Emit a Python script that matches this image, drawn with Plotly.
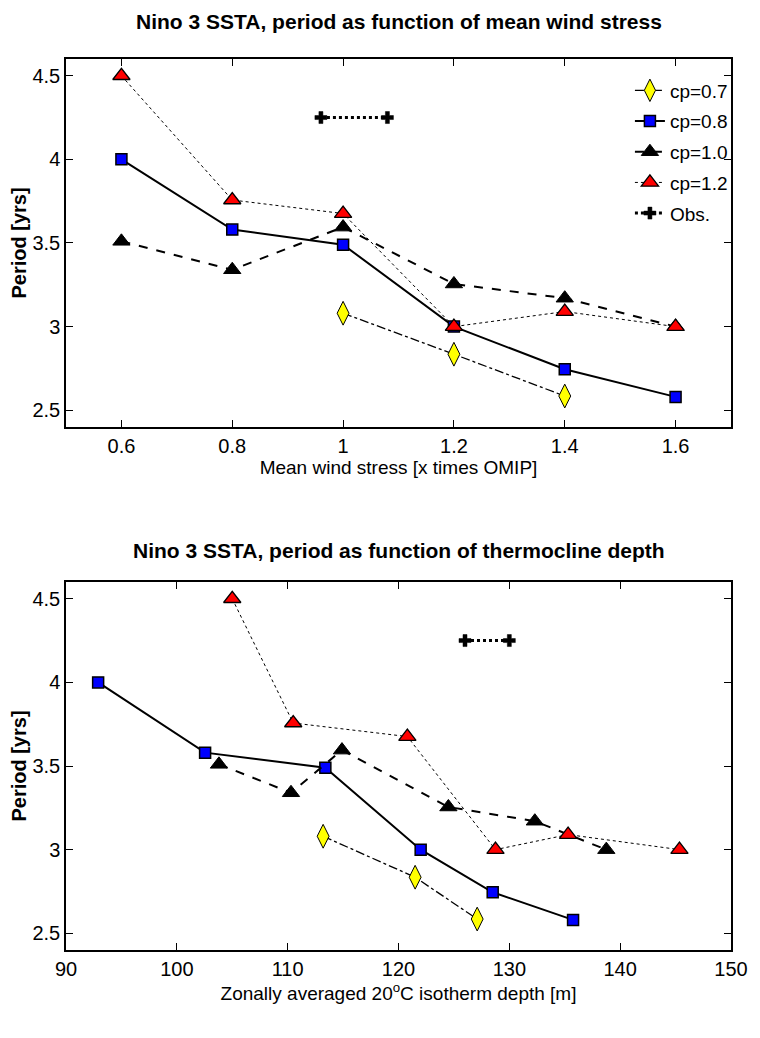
import plotly.graph_objects as go

# ---------------- data ----------------
wind_x = [0.6, 0.8, 1.0, 1.2, 1.4, 1.6]
wind_x07 = [1.0, 1.2, 1.4]
obs_wind_x = [0.96, 1.08]

p07 = [3.08, 2.835, 2.585]
p08 = [4.0, 3.58, 3.49, 3.0, 2.745, 2.58]
p10 = [3.51, 3.34, 3.595, 3.255, 3.17, 3.0]
p12 = [4.5, 3.757, 3.676, 3.0, 3.09, 3.0]
obs_p = [4.25, 4.25]

depth07 = [113.2, 121.5, 127.1]
depth08 = [92.9, 102.55, 113.4, 122.0, 128.5, 135.75]
depth10 = [103.8, 110.3, 114.9, 124.5, 132.3, 138.75]
depth12 = [105.0, 110.5, 120.8, 128.75, 135.3, 145.35]
obs_depth = [126.0, 130.0]

wind_ticks = [0.6, 0.8, 1.0, 1.2, 1.4, 1.6]
wind_ticktext = ["0.6", "0.8", "1", "1.2", "1.4", "1.6"]
depth_ticks = [90, 100, 110, 120, 130, 140, 150]
period_ticks = [2.5, 3.0, 3.5, 4.0, 4.5]
period_ticktext = ["2.5", "3", "3.5", "4", "4.5"]

FONT = "Arial"

styles = {
    "cp=0.7": dict(line=dict(color="black", width=1.3, dash="dashdot"),
                   marker=dict(symbol="diamond-tall", size=17, color="#ffff00",
                               line=dict(color="black", width=1))),
    "cp=0.8": dict(line=dict(color="black", width=2),
                   marker=dict(symbol="square", size=11, color="#0000ff",
                               line=dict(color="black", width=1.5))),
    "cp=1.0": dict(line=dict(color="black", width=2, dash="dash"),
                   marker=dict(symbol="triangle-up", size=15, color="black",
                               line=dict(color="black", width=1))),
    "cp=1.2": dict(line=dict(color="black", width=1, dash="dot"),
                   marker=dict(symbol="triangle-up", size=15, color="#ff0000",
                               line=dict(color="black", width=1.3))),
    "Obs.": dict(line=dict(color="black", width=3, dash="dot"),
                 marker=dict(symbol="cross", size=10, color="black",
                             line=dict(color="black", width=0.5))),
}

fig = go.Figure()

top_series = [(wind_x07, p07, "cp=0.7"), (wind_x, p08, "cp=0.8"),
              (wind_x, p10, "cp=1.0"), (wind_x, p12, "cp=1.2"),
              (obs_wind_x, obs_p, "Obs.")]
bot_series = [(depth07, p07, "cp=0.7"), (depth08, p08, "cp=0.8"),
              (depth10, p10, "cp=1.0"), (depth12, p12, "cp=1.2"),
              (obs_depth, obs_p, "Obs.")]

for xs, ys, nm in top_series:
    fig.add_trace(go.Scatter(x=xs, y=ys, name=nm, mode="lines+markers", legendgroup=nm,
                             xaxis="x", yaxis="y", showlegend=True, **styles[nm]))
for xs, ys, nm in bot_series:
    fig.add_trace(go.Scatter(x=xs, y=ys, name=nm, mode="lines+markers", legendgroup=nm,
                             xaxis="x2", yaxis="y2", showlegend=False, **styles[nm]))

axis_common = dict(showline=True, linecolor="black", linewidth=1.5, mirror="ticks",
                   ticks="inside", ticklen=7, tickwidth=1, tickcolor="black",
                   showgrid=False, zeroline=False,
                   tickfont=dict(family=FONT, size=20, color="black"))

fig.update_layout(
    width=760, height=1038,
    margin=dict(l=66, r=19, t=59, b=88),
    paper_bgcolor="white", plot_bgcolor="white",
    xaxis=dict(domain=[0, 1], anchor="y", range=[0.5, 1.7],
               tickvals=wind_ticks, ticktext=wind_ticktext,
               title=dict(text="Mean wind stress [x times OMIP]", standoff=4,
                          font=dict(family=FONT, size=19, color="black")),
               **axis_common),
    yaxis=dict(domain=[0.587, 1], anchor="x", range=[2.4, 4.6],
               tickvals=period_ticks, ticktext=period_ticktext,
               title=dict(text="<b>Period [yrs]</b>", standoff=0,
                          font=dict(family=FONT, size=20, color="black")),
               **axis_common),
    xaxis2=dict(domain=[0, 1], anchor="y2", range=[90, 150],
                tickvals=depth_ticks,
                title=dict(text="Zonally averaged 20<sup>o</sup>C isotherm depth [m]", standoff=6,
                           font=dict(family=FONT, size=19, color="black")),
                **axis_common),
    yaxis2=dict(domain=[0, 0.413], anchor="x2", range=[2.4, 4.6],
                tickvals=period_ticks, ticktext=period_ticktext,
                title=dict(text="<b>Period [yrs]</b>", standoff=0,
                           font=dict(family=FONT, size=20, color="black")),
                **axis_common),
    legend=dict(x=0.848, xanchor="left", y=0.986, yanchor="top",
                bgcolor="rgba(0,0,0,0)", borderwidth=0,
                font=dict(family=FONT, size=19, color="black"),
                itemwidth=30, tracegroupgap=3, traceorder="grouped"),
    annotations=[
        dict(text="<b>Nino 3 SSTA, period as function of mean wind stress</b>",
             xref="paper", yref="paper", x=0.5, y=1, yshift=24, xanchor="center",
             yanchor="bottom", showarrow=False,
             font=dict(family=FONT, size=21, color="black")),
        dict(text="<b>Nino 3 SSTA, period as function of thermocline depth</b>",
             xref="paper", yref="paper", x=0.5, y=0.413, yshift=18, xanchor="center",
             yanchor="bottom", showarrow=False,
             font=dict(family=FONT, size=21, color="black")),
    ],
)

fig.write_html("out.html")
